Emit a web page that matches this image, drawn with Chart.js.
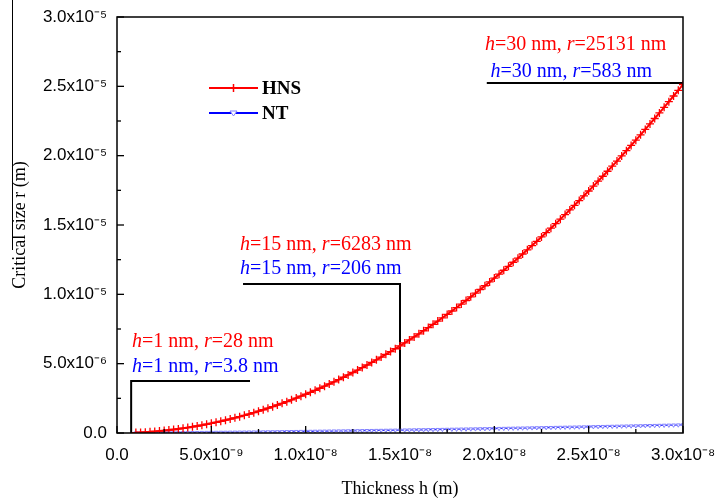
<!DOCTYPE html>
<html>
<head>
<meta charset="utf-8">
<script src="https://cdn.jsdelivr.net/npm/chart.js@4/dist/chart.umd.min.js"></script>
<style>
html,body{margin:0;padding:0;background:#fff;}
#wrap{width:717px;height:504px;position:relative;}
</style>
</head>
<body>
<div id="wrap"><canvas id="c" width="717" height="504"></canvas></div>
<script>
// thickness h (nm)
const hNm = [1,1.25,1.5,1.75,2,2.25,2.5,2.75,3,3.25,3.5,3.75,4,4.25,4.5,4.75,5,5.25,5.5,5.75,6,6.25,6.5,6.75,7,7.25,7.5,7.75,8,8.25,8.5,8.75,9,9.25,9.5,9.75,10,10.25,10.5,10.75,11,11.25,11.5,11.75,12,12.25,12.5,12.75,13,13.25,13.5,13.75,14,14.25,14.5,14.75,15,15.25,15.5,15.75,16,16.25,16.5,16.75,17,17.25,17.5,17.75,18,18.25,18.5,18.75,19,19.25,19.5,19.75,20,20.25,20.5,20.75,21,21.25,21.5,21.75,22,22.25,22.5,22.75,23,23.25,23.5,23.75,24,24.25,24.5,24.75,25,25.25,25.5,25.75,26,26.25,26.5,26.75,27,27.25,27.5,27.75,28,28.25,28.5,28.75,29,29.25,29.5,29.75,30];
// critical size r (nm), HNS
const hnsR = [28,44,63,86,112,141,175,211,251,295,342,393,447,504,566,630,698,770,845,923,1005,1091,1180,1272,1368,1468,1571,1677,1787,1901,2018,2138,2262,2389,2520,2655,2793,2934,3079,3227,3379,3534,3693,3855,4021,4191,4363,4540,4719,4903,5089,5280,5473,5671,5871,6075,6283,6494,6709,6927,7149,7374,7603,7835,8070,8309,8552,8798,9048,9301,9557,9817,10081,10348,10619,10893,11170,11451,11736,12023,12315,12610,12908,13210,13516,13825,14137,14453,14772,15095,15422,15751,16085,16422,16762,17106,17453,17804,18158,18516,18877,19242,19610,19982,20357,20736,21118,21504,21893,22286,22682,23082,23485,23892,24302,24715,25131];
// critical size r (nm), NT
const ntR = [3.8,5.0,6.5,8.2,10.0,12.0,14.0,16.2,18.4,20.8,23.2,25.8,28.4,31.1,33.9,36.8,39.7,42.7,45.8,48.9,52.2,55.5,58.8,62.3,65.7,69.3,72.9,76.6,80.3,84.1,88.0,91.9,95.9,99.9,103.9,108.1,112.3,116.5,120.8,125.1,129.5,134.0,138.4,143.0,147.6,152.2,156.9,161.6,166.4,171.2,176.1,181.0,186.0,191.0,196.0,201.1,206,211.4,216.6,221.9,227.2,232.5,237.9,243.4,248.8,254.3,259.9,265.5,271.1,276.8,282.5,288.2,294.0,299.8,305.7,311.6,317.5,323.5,329.5,335.5,341.6,347.8,353.9,360.1,366.3,372.6,378.9,385.2,391.6,398.0,404.4,410.9,417.4,423.9,430.5,437.1,443.8,450.4,457.1,463.9,470.6,477.4,484.3,491.1,498.1,505.0,512.0,518.9,526.0,533.0,540.1,547.3,554.4,561.6,568.8,576.1,583];

const xTickLabels = ['0.0','5.0x10\u207B\u2079','1.0x10\u207B\u2078','1.5x10\u207B\u2078','2.0x10\u207B\u2078','2.5x10\u207B\u2078','3.0x10\u207B\u2078'];
const yTickLabels = ['0.0','5.0x10\u207B\u2076','1.0x10\u207B\u2075','1.5x10\u207B\u2075','2.0x10\u207B\u2075','2.5x10\u207B\u2075','3.0x10\u207B\u2075'];

// annotation brackets (x in nm, y in m)
const bracket1X = [0.75, 0.75, 7.05];
const bracket1Y = [0, 3.75e-6, 3.75e-6];
const bracket2X = [6.68, 15, 15];
const bracket2Y = [1.0745e-5, 1.0745e-5, 0];
const bracket3X = [19.6, 30];
const bracket3Y = [2.524e-5, 2.524e-5];

// annotation texts
const annH = ['1','15','30'];
const annRhns = ['28','6283','25131'];
const annRnt = ['3.8','206','583'];
const annXhns = [0.8, 6.52, 19.5];        // nm
const annXnt = [0.8, 6.52, 19.8];         // nm
const annYhns = [6.56e-6, 1.356e-5, 2.798e-5];
const annYnt = [4.76e-6, 1.183e-5, 2.603e-5];

const toPts = (xs, ys, sx, sy) => xs.map((v,i)=>({x:v*sx, y:ys[i]*sy}));

const frame = {
  id:'frame',
  afterDraw(chart){
    const ctx = chart.ctx, ca = chart.chartArea;
    const xs = chart.scales.x, ys = chart.scales.y;
    ctx.save();
    ctx.strokeStyle = '#000';
    ctx.lineWidth = 1.5;
    ctx.strokeRect(ca.left, ca.top, ca.right-ca.left, ca.bottom-ca.top);
    ctx.lineWidth = 1.3;
    xs.ticks.forEach((t,i)=>{
      const p = xs.getPixelForValue(t.value);
      const len = i%2===0 ? 7 : 4;
      ctx.beginPath(); ctx.moveTo(p, ca.bottom); ctx.lineTo(p, ca.bottom-len); ctx.stroke();
    });
    ys.ticks.forEach((t,i)=>{
      const p = ys.getPixelForValue(t.value);
      const len = i%2===0 ? 7 : 4;
      ctx.beginPath(); ctx.moveTo(ca.left, p); ctx.lineTo(ca.left+len, p); ctx.stroke();
    });
    // left edge line of the original figure
    ctx.lineWidth = 1;
    ctx.beginPath(); ctx.moveTo(12.5, 0); ctx.lineTo(12.5, 250); ctx.stroke();

    // annotation texts
    ctx.textBaseline = 'middle';
    const drawAnn = (x, y, hv, rv, color) => {
      ctx.fillStyle = color;
      let cx = x;
      const parts = [['italic ', 'h'], ['', '='+hv+' nm, '], ['italic ', 'r'], ['', '='+rv+' nm']];
      parts.forEach(([st, s])=>{
        ctx.font = st + '20px "Liberation Serif", "Times New Roman", serif';
        ctx.fillText(s, cx, y);
        cx += ctx.measureText(s).width;
      });
    };
    annH.forEach((hv,i)=>{
      drawAnn(xs.getPixelForValue(annXhns[i]*1e-9), ys.getPixelForValue(annYhns[i]), hv, annRhns[i], '#ff0000');
      drawAnn(xs.getPixelForValue(annXnt[i]*1e-9), ys.getPixelForValue(annYnt[i]), hv, annRnt[i], '#0000ff');
    });

    // legend
    const legend = [['HNS','#ff0000',88,'cross'],['NT','#0000ff',113,'tri']];
    legend.forEach(([name,color,y,m])=>{
      ctx.strokeStyle = color; ctx.lineWidth = 2;
      ctx.beginPath(); ctx.moveTo(209,y); ctx.lineTo(258,y); ctx.stroke();
      if (m==='cross'){
        ctx.lineWidth = 1.5;
        ctx.beginPath(); ctx.moveTo(233.5,y-4); ctx.lineTo(233.5,y+4); ctx.stroke();
      } else {
        ctx.fillStyle = '#fff'; ctx.strokeStyle = '#8080ff'; ctx.lineWidth = 1;
        ctx.beginPath(); ctx.moveTo(230,y-2); ctx.lineTo(237,y-2); ctx.lineTo(233.5,y+3); ctx.closePath(); ctx.fill(); ctx.stroke();
      }
      ctx.fillStyle = '#000';
      ctx.font = 'bold 19px "Liberation Serif", "Times New Roman", serif';
      ctx.fillText(name, 262, y+1);
    });
    ctx.restore();
  }
};

new Chart(document.getElementById('c'), {
  type: 'line',
  data: {
    datasets: [
      { label:'HNS', data: toPts(hNm, hnsR, 1e-9, 1e-9), borderColor:'#ff0000', borderWidth:2,
        pointStyle:'cross', pointRadius:4, pointBorderColor:'#ff0000', pointBorderWidth:1.3, fill:false, tension:0 },
      { label:'NT', data: toPts(hNm, ntR, 1e-9, 1e-9), borderColor:'#3030ff', borderWidth:1.2,
        pointStyle:'triangle', rotation:180, pointRadius:2.2, pointBorderColor:'#8080ff', pointBackgroundColor:'#ffffff', pointBorderWidth:1, fill:false, tension:0 },
      { label:'b1', data: toPts(bracket1X, bracket1Y, 1e-9, 1), borderColor:'#000', borderWidth:2, pointRadius:0, fill:false },
      { label:'b2', data: toPts(bracket2X, bracket2Y, 1e-9, 1), borderColor:'#000', borderWidth:2, pointRadius:0, fill:false },
      { label:'b3', data: toPts(bracket3X, bracket3Y, 1e-9, 1), borderColor:'#000', borderWidth:2, pointRadius:0, fill:false }
    ]
  },
  options: {
    responsive:false, animation:false,
    layout:{ padding:{ left:0, right:34, top:17, bottom:0 } },
    plugins:{ legend:{display:false}, tooltip:{enabled:false} },
    scales:{
      x:{
        type:'linear', min:0, max:3e-8,
        afterBuildTicks(axis){ axis.ticks = Array.from({length:13},(_,i)=>({value:i*2.5e-9})); },
        afterFit(axis){ axis.height = 71; axis.paddingLeft = 0; axis.paddingRight = 0; },
        grid:{ display:false, drawTicks:false },
        border:{ display:false },
        ticks:{ autoSkip:false, maxRotation:0, padding:12, color:'#000',
          font:{ family:'"Liberation Sans", Arial, sans-serif', size:17 },
          callback:(v,i)=> i%2===0 ? xTickLabels[i/2] : '' },
        title:{ display:true, text:'Thickness h (m)', color:'#000',
          font:{ family:'"Liberation Serif", "Times New Roman", serif', size:18 }, padding:{top:0,bottom:4} }
      },
      y:{
        type:'linear', min:0, max:3e-5,
        afterBuildTicks(axis){ axis.ticks = Array.from({length:13},(_,i)=>({value:i*2.5e-6})); },
        afterFit(axis){ axis.width = 117; axis.paddingTop = 0; axis.paddingBottom = 0; },
        grid:{ display:false, drawTicks:false },
        border:{ display:false },
        ticks:{ autoSkip:false, padding:10, color:'#000',
          font:{ family:'"Liberation Sans", Arial, sans-serif', size:17 },
          callback:(v,i)=> i%2===0 ? yTickLabels[i/2] : '' },
        title:{ display:true, text:'Critical size r (m)', color:'#000',
          font:{ family:'"Liberation Serif", "Times New Roman", serif', size:18 }, padding:{top:9,bottom:0} }
      }
    }
  },
  plugins:[frame]
});
</script>
</body>
</html>
